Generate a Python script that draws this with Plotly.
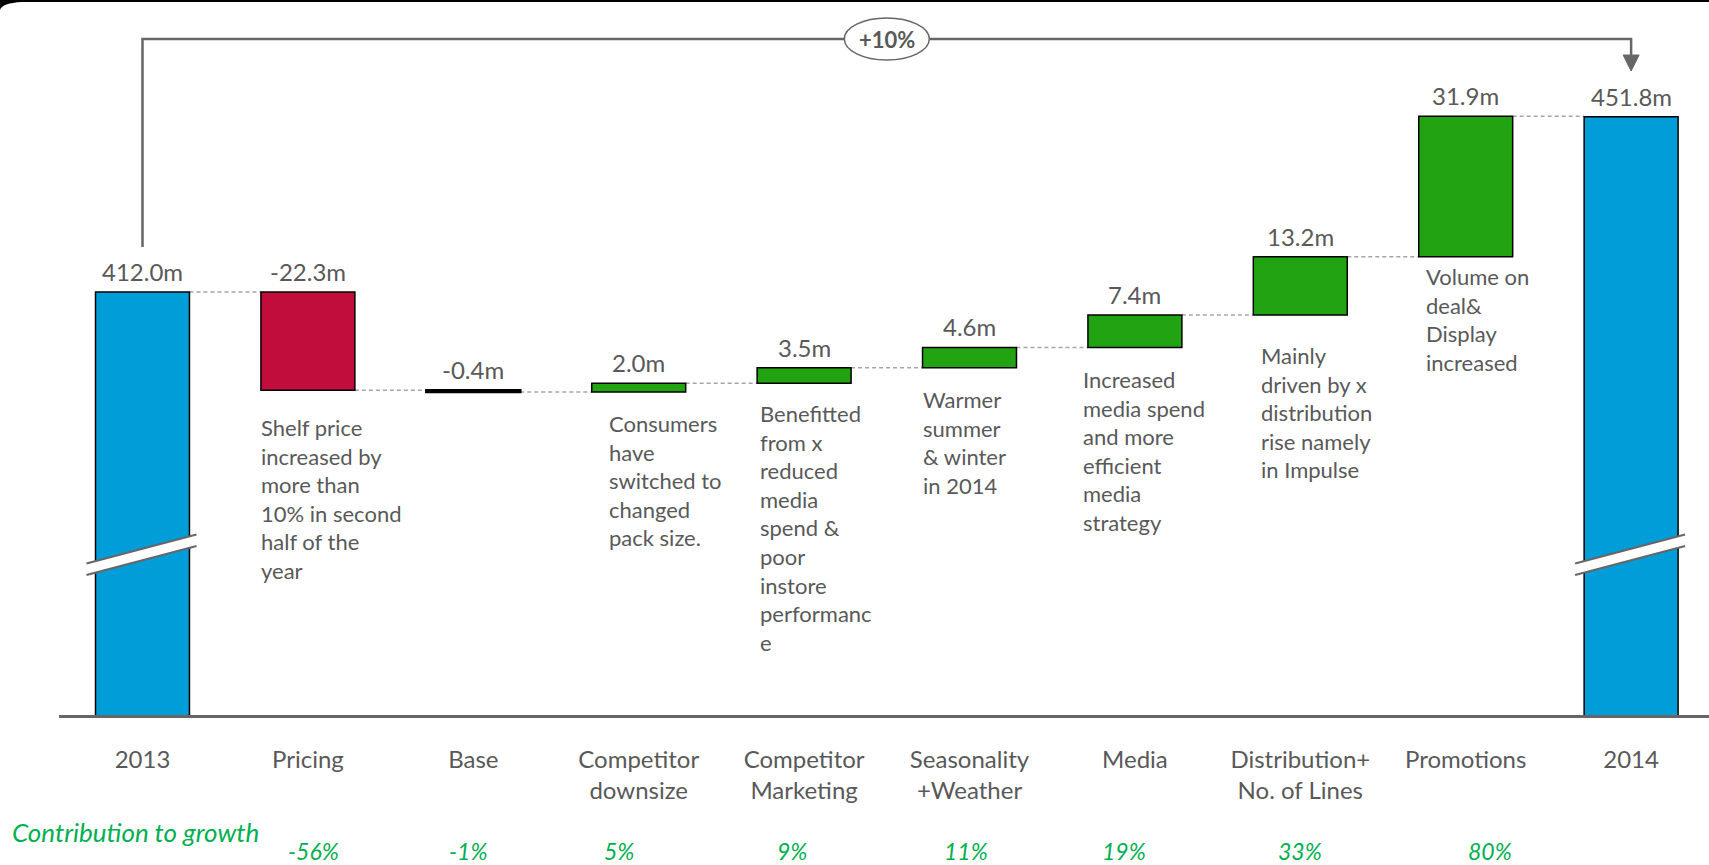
import plotly.graph_objects as go

# ---- data -------------------------------------------------------------
categories = ["2013", "Pricing", "Base", "Competitor<br>downsize", "Competitor<br>Marketing",
              "Seasonality<br>+Weather", "Media", "Distribution+<br>No. of Lines",
              "Promotions", "2014"]
measures = ["absolute", "relative", "relative", "relative", "relative",
            "relative", "relative", "relative", "relative", "absolute"]
values = [412.0, -22.3, -0.4, 2.0, 3.5, 4.6, 7.4, 13.2, 31.9, 451.8]
value_labels = ["412.0m", "-22.3m", "-0.4m", "2.0m", "3.5m", "4.6m", "7.4m",
                "13.2m", "31.9m", "451.8m"]
contribution = ["-56%", "-1%", "5%", "9%", "11%", "19%", "33%", "80%"]
comments = {
    1: "Shelf price<br>increased by<br>more than<br>10% in second<br>half of the<br>year",
    3: "Consumers<br>have<br>switched to<br>changed<br>pack size.",
    4: "Benefitted<br>from x<br>reduced<br>media<br>spend &<br>poor<br>instore<br>performanc<br>e",
    5: "Warmer<br>summer<br>& winter<br>in 2014",
    6: "Increased<br>media spend<br>and more<br>efficient<br>media<br>strategy",
    7: "Mainly<br>driven by x<br>distribution<br>rise namely<br>in Impulse",
    8: "Volume on<br>deal&<br>Display<br>increased",
}
growth_label = "+10%"
contribution_title = "Contribution to growth"

# ---- styling ------------------------------------------------------------
BLUE = "#009DD9"
RED = "#C00D3C"
GREEN = "#22A412"
TEXT = "#595959"
LINE = "#666666"
PCT_GREEN = "#00B050"
FONT = "Lato"

W, H = 1709, 865
PLOT_L, PLOT_R, PLOT_T, PLOT_B = 59, 1709, 0, 715
XR = [-0.5048, 9.4709]
YR = [315.96, 478.29]
BAR_FRAC = 0.568


def xp(px):
    """page pixel -> paper x"""
    return (px - PLOT_L) / (PLOT_R - PLOT_L)


def yp(py):
    """page pixel -> paper y"""
    return (PLOT_B - py) / (PLOT_B - PLOT_T)


def cat_px(i):
    return PLOT_L + (i - XR[0]) / (XR[1] - XR[0]) * (PLOT_R - PLOT_L)


def val_py(v):
    return PLOT_T + (YR[1] - v) / (YR[1] - YR[0]) * (PLOT_B - PLOT_T)


# running totals -> bar tops / bottoms / end levels
tops, bottoms, levels, colors = [], [], [], []
level = 0.0
for m, v in zip(measures, values):
    if m == "absolute":
        level = v
        tops.append(v)
        bottoms.append(0.0)
        colors.append(BLUE)
    else:
        start = level
        level = level + v
        tops.append(max(start, level))
        bottoms.append(min(start, level))
        if abs(v) < 1:
            colors.append("black")
        else:
            colors.append(GREEN if v > 0 else RED)
    levels.append(level)

heights = [t - b for t, b in zip(tops, bottoms)]
line_w = [2.5 if c == "black" else 1.5 for c in colors]

fig = go.Figure(go.Bar(
    x=categories, y=heights, base=bottoms, width=BAR_FRAC,
    marker=dict(color=colors, line=dict(color="black", width=line_w)),
    hoverinfo="skip", showlegend=False,
))

shapes = []
# dashed connectors between consecutive bars
for i in range(len(categories) - 1):
    shapes.append(dict(type="line", xref="x", yref="y",
                       x0=i + BAR_FRAC / 2, x1=i + 1 - BAR_FRAC / 2,
                       y0=levels[i], y1=levels[i],
                       line=dict(color="#A6A6A6", width=1.5, dash="4px,3px"),
                       layer="below"))

annotations = []
# value labels above each bar
for i, lab in enumerate(value_labels):
    annotations.append(dict(x=i, y=tops[i], xref="x", yref="y", text=lab,
                            showarrow=False, yanchor="bottom", yshift=4,
                            font=dict(family=FONT, size=24, color=TEXT)))

# explanatory notes under the bars
note_dx = {1: 1, 3: 18, 4: 4, 5: 1, 6: -4, 7: 9, 8: 8}
note_gap = {1: 32, 3: 26, 4: 25, 5: 26, 6: 27, 7: 35, 8: 14}
for i, txt in comments.items():
    annotations.append(dict(x=i - BAR_FRAC / 2, y=bottoms[i], xref="x", yref="y",
                            text=txt, showarrow=False, xanchor="left", yanchor="top",
                            align="left", xshift=note_dx[i] - 3,
                            yshift=-(note_gap[i] - 10),
                            font=dict(family=FONT, size=22, color=TEXT)))

# contribution row
annotations.append(dict(x=xp(10), y=yp(832), xref="paper", yref="paper",
                        text=contribution_title, showarrow=False, xanchor="left",
                        yanchor="middle",
                        font=dict(family=FONT, size=26, color=PCT_GREEN, style="italic")))
pct_dx = [6, -5, -20, -12, -4, -11, 0, 24]
for k, p in enumerate(contribution):
    annotations.append(dict(x=k + 1, y=yp(851), xref="x", yref="paper", text=p,
                            showarrow=False, xanchor="center", yanchor="middle",
                            xshift=pct_dx[k],
                            font=dict(family=FONT, size=23, color=PCT_GREEN, style="italic")))

# growth bracket from first to last bar
x_a, x_b = cat_px(0), cat_px(len(categories) - 1)
br_top, br_start, arrow_base, arrow_tip = 39, val_py(tops[0]) - 45, 55, 71
shapes.append(dict(type="path", xref="paper", yref="paper",
                   path=f"M {xp(x_a)},{yp(br_start)} L {xp(x_a)},{yp(br_top)} "
                        f"L {xp(x_b)},{yp(br_top)} L {xp(x_b)},{yp(arrow_base)}",
                   line=dict(color=LINE, width=2.5), layer="above"))
shapes.append(dict(type="path", xref="paper", yref="paper",
                   path=f"M {xp(x_b - 8)},{yp(arrow_base)} L {xp(x_b + 8)},{yp(arrow_base)} "
                        f"L {xp(x_b)},{yp(arrow_tip)} Z",
                   fillcolor=LINE, line=dict(color=LINE, width=1), layer="above"))
cx = (x_a + x_b) / 2
shapes.append(dict(type="circle", xref="paper", yref="paper",
                   x0=xp(cx - 42.5), x1=xp(cx + 42.5), y0=yp(br_top + 21), y1=yp(br_top - 21),
                   fillcolor="white", line=dict(color=LINE, width=1.5), layer="above"))
annotations.append(dict(x=xp(cx), y=yp(br_top), xref="paper", yref="paper",
                        xanchor="center", yanchor="middle",
                        text=f"<b>{growth_label}</b>", showarrow=False,
                        font=dict(family=FONT, size=22, color=TEXT)))

# axis-break marks on the two total bars
for i in (0, len(categories) - 1):
    c = cat_px(i)
    l, r = c - 56, c + 54
    up_l, up_r, th = 563.5, 534.5, 11.5
    shapes.append(dict(type="path", xref="paper", yref="paper",
                       path=f"M {xp(l)},{yp(up_l)} L {xp(r)},{yp(up_r)} "
                            f"L {xp(r)},{yp(up_r + th)} L {xp(l)},{yp(up_l + th)} Z",
                       fillcolor="white", line=dict(width=0), layer="above"))
    for off in (0, th):
        shapes.append(dict(type="line", xref="paper", yref="paper",
                           x0=xp(l), y0=yp(up_l + off), x1=xp(r), y1=yp(up_r + off),
                           line=dict(color=LINE, width=2), layer="above"))

# slide frame corner at the top
shapes.append(dict(type="path", xref="paper", yref="paper",
                   path=f"M {xp(0)},{yp(0)} L {xp(W)},{yp(0)} L {xp(W)},{yp(2)} "
                        f"L {xp(22)},{yp(2)} Q {xp(2)},{yp(3)} {xp(0)},{yp(10)} Z",
                   fillcolor="black", line=dict(width=0), layer="above"))

fig.update_layout(
    width=W, height=H,
    margin=dict(l=PLOT_L, r=W - PLOT_R, t=PLOT_T, b=H - PLOT_B),
    paper_bgcolor="white", plot_bgcolor="white",
    xaxis=dict(range=XR, showline=True, linecolor=LINE, linewidth=2.5,
               showgrid=False, zeroline=False, ticks="", ticklabelstandoff=21,
               tickfont=dict(family=FONT, size=24, color=TEXT), fixedrange=True),
    yaxis=dict(range=YR, visible=False, showgrid=False, zeroline=False, fixedrange=True),
    annotations=annotations, shapes=shapes,
    font=dict(family=FONT),
)

fig.write_html("out.html", config=dict(displayModeBar=False))
